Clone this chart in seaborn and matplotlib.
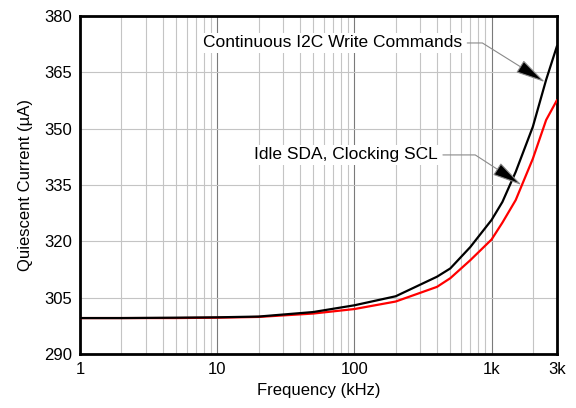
import numpy as np
import pandas as pd
import matplotlib
matplotlib.use('Agg')
import matplotlib.pyplot as plt
import seaborn as sns
from matplotlib.ticker import FixedLocator, LogLocator, NullFormatter

# data
freq_khz = [1, 2, 5, 10, 20, 50, 100, 200, 400, 500, 700, 1000, 1200, 1500, 2000, 2500, 3000]
i2c_write = [299.6, 299.6, 299.7, 299.8, 300.0, 301.2, 303.0, 305.4, 310.6, 312.8, 318.5,
             325.7, 330.5, 338.5, 350.5, 363.0, 372.0]
idle_sda = [299.6, 299.6, 299.6, 299.7, 299.9, 300.8, 302.0, 304.0, 307.9, 310.2, 315.0,
            320.5, 325.0, 331.0, 342.0, 352.3, 357.6]
y_ticks = [290, 305, 320, 335, 350, 365, 380]
x_ticks = [1, 10, 100, 1000, 3000]
x_labels = ['1', '10', '100', '1k', '3k']

df = pd.DataFrame({
    'freq': freq_khz * 2,
    'current': idle_sda + i2c_write,
    'series': ['Idle SDA, Clocking SCL'] * len(freq_khz) + ['Continuous I2C Write Commands'] * len(freq_khz),
})

sns.set_style('white')
plt.rcParams['font.family'] = ['Liberation Sans', 'DejaVu Sans']
plt.rcParams['text.color'] = 'black'
plt.rcParams['axes.labelcolor'] = 'black'
plt.rcParams['xtick.color'] = 'black'
plt.rcParams['ytick.color'] = 'black'

fig = plt.figure(figsize=(5.76, 4.08), dpi=100)
ax = fig.add_axes([0.139, 0.132, 0.828, 0.829])

sns.lineplot(data=df, x='freq', y='current', hue='series',
             palette={'Idle SDA, Clocking SCL': '#ff0000', 'Continuous I2C Write Commands': '#000000'},
             linewidth=1.6, legend=False, ax=ax, zorder=3)

ax.set_xscale('log')
ax.set_xlim(1, 3000)
ax.set_ylim(290, 380)
ax.xaxis.set_major_locator(FixedLocator(x_ticks))
ax.set_xticklabels(x_labels)
ax.xaxis.set_minor_locator(LogLocator(base=10, subs=np.arange(2, 10)))
ax.xaxis.set_minor_formatter(NullFormatter())
ax.set_yticks(y_ticks)

ax.grid(True, which='major', axis='x', color='#7a7a7a', lw=0.8)
ax.grid(True, which='minor', axis='x', color='#c4c4c4', lw=0.8)
ax.grid(True, which='major', axis='y', color='#c4c4c4', lw=0.8)
ax.tick_params(which='both', length=0, labelsize=12, pad=6)

for s in ax.spines.values():
    s.set_linewidth(2)
    s.set_color('black')

ax.set_xlabel('Frequency (kHz)', fontsize=12, labelpad=4)
ax.set_ylabel('Quiescent Current (µA)', fontsize=12, labelpad=8)

arrow = dict(arrowstyle='-|>,head_length=1.9,head_width=0.45', mutation_scale=10,
             fc='black', ec='#8a8a8a', lw=0.8, shrinkA=2, shrinkB=0,
             connectionstyle='angle,angleA=0,angleB=-32,rad=0')
ax.annotate('Continuous I2C Write Commands', xy=(2450, 362.4), xytext=(0.53, 0.92),
            textcoords='axes fraction', ha='center', va='center', fontsize=12.5,
            bbox=dict(fc='white', ec='none', pad=1.5), arrowprops=arrow, zorder=5)
arrow2 = dict(arrow, connectionstyle='angle,angleA=0,angleB=-33,rad=0')
ax.annotate('Idle SDA, Clocking SCL', xy=(1656, 335.0), xytext=(0.558, 0.589),
            textcoords='axes fraction', ha='center', va='center', fontsize=12.5,
            bbox=dict(fc='white', ec='none', pad=1.5), arrowprops=arrow2, zorder=5)

fig.savefig('out.png', dpi=100)
